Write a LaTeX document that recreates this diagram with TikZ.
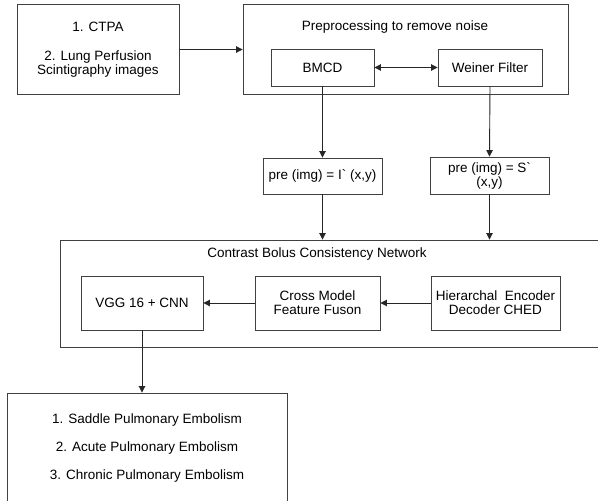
\documentclass[tikz,border=0pt]{standalone}
\usepackage{fontspec}
\setmainfont{Liberation Sans}
\usetikzlibrary{arrows.meta}
\begin{document}
\begin{tikzpicture}[x=1pt,y=-1pt,
  box/.style={draw=black!75, line width=0.9pt, fill=white, align=center, inner sep=0pt,
    font=\fontsize{13.5}{14}\selectfont},
  lbl/.style={font=\fontsize{13.5}{14}\selectfont, inner sep=0pt},
  arr/.style={draw=black!85, line width=0.9pt, -{Triangle[width=6.5pt,length=6.5pt]}},
  darr/.style={draw=black!85, line width=0.9pt, {Triangle[width=6.5pt,length=6.5pt]}-{Triangle[width=6.5pt,length=6.5pt]}}]
\useasboundingbox (0,0) rectangle (598,501);
\clip (0,0) rectangle (598,501);
\fill[white] (0,0) rectangle (598,501);
% input box
\node[box, minimum width=162pt, minimum height=90pt] (inp) at (98,49.5)
  {1. CTPA\\[15pt]2. Lung Perfusion\\Scintigraphy images};
% preprocessing container
\node[box, minimum width=325pt, minimum height=90pt] (prep) at (405.5,49) {};
\node[lbl] (preptitle) at (395,27) {Preprocessing to remove noise};
\node[box, minimum width=103pt, minimum height=37pt] (bmcd) at (322.5,67.5) {BMCD};
\node[box, minimum width=104pt, minimum height=37pt] (wein) at (490,67.5) {Weiner Filter};
% pre images
\node[box, minimum width=119pt, minimum height=36pt] (pre1) at (322.5,176) {pre (img) = I\textasciigrave\ (x,y)};
\node[box, minimum width=119pt, minimum height=37pt] (pre2) at (489.5,175.5) {pre (img) = S\textasciigrave\\(x,y)};
% CBCN container
\node[box, minimum width=550pt, minimum height=107pt] (cbcn) at (335,293.5) {};
\node[lbl] (cbcntitle) at (317,254) {Contrast Bolus Consistency Network};
\node[box, minimum width=122pt, minimum height=54pt] (vgg) at (142,303) {VGG 16 + CNN};
\node[box, minimum width=125pt, minimum height=54pt] (cross) at (317.5,303) {Cross Model\\Feature Fuson};
\node[box, minimum width=129pt, minimum height=54pt] (hier) at (495.5,303) {Hierarchal\ \ Encoder\\Decoder CHED};
% results
\node[box, minimum width=280pt, minimum height=110pt, font=\fontsize{13.5}{28}\selectfont] (res) at (147,448)
  {1. Saddle Pulmonary Embolism\\2. Acute Pulmonary Embolism\\3. Chronic Pulmonary Embolism};
% connectors
\draw[arr] (inp.east) -- (prep.west |- inp.east);
\draw[darr] (bmcd.east) -- (wein.west);
\draw[arr] (bmcd.south) -- (pre1.north);
\draw[arr] (wein.south) -- (pre2.north);
\draw[arr] (pre1.south) -- (pre1.south |- cbcn.north);
\draw[arr] (pre2.south) -- (pre2.south |- cbcn.north);
\draw[arr] (hier.west) -- (cross.east);
\draw[arr] (cross.west) -- (vgg.east);
\draw[arr] (vgg.south) -- (vgg.south |- res.north);
\end{tikzpicture}
\end{document}
